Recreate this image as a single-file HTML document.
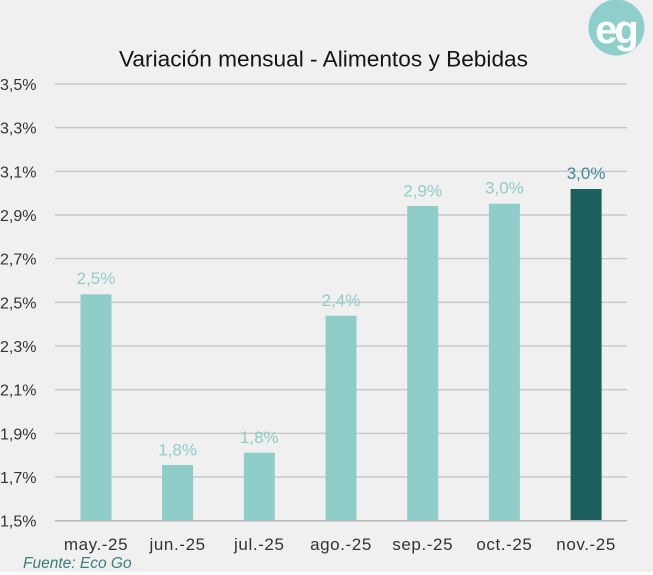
<!DOCTYPE html>
<html><head><meta charset="utf-8"><style>
html,body{margin:0;padding:0;background:#f0f0f0;}
svg{display:block;font-family:"Liberation Sans",sans-serif;}
</style></head><body>
<svg width="653" height="575" viewBox="0 0 653 575" xmlns="http://www.w3.org/2000/svg">
<rect x="0" y="0" width="653" height="575" fill="#f0f0f0"/>
<rect x="0" y="572" width="653" height="3" fill="#ffffff"/>
<!-- logo -->
<circle cx="616.5" cy="27.5" r="28" fill="#8fcfcb"/>
<text x="615.5" y="43" font-size="40" font-weight="bold" fill="#ffffff" text-anchor="middle" letter-spacing="-3">eg</text>
<!-- title -->
<text x="119" y="66.5" font-size="22.5" fill="#151515" textLength="409" lengthAdjust="spacingAndGlyphs">Variación mensual - Alimentos y Bebidas</text>
<!-- gridlines -->
<g stroke="#c9c9c9" stroke-width="1.5">
<line x1="55" x2="627" y1="84" y2="84"/>
<line x1="55" x2="627" y1="127.67" y2="127.67"/>
<line x1="55" x2="627" y1="171.33" y2="171.33"/>
<line x1="55" x2="627" y1="215" y2="215"/>
<line x1="55" x2="627" y1="258.67" y2="258.67"/>
<line x1="55" x2="627" y1="302.33" y2="302.33"/>
<line x1="55" x2="627" y1="346" y2="346"/>
<line x1="55" x2="627" y1="389.67" y2="389.67"/>
<line x1="55" x2="627" y1="433.33" y2="433.33"/>
<line x1="55" x2="627" y1="477" y2="477"/>
</g>
<!-- y labels -->
<g font-size="16" fill="#333333">
<text x="0" y="90">3,5%</text>
<text x="0" y="133.67">3,3%</text>
<text x="0" y="177.33">3,1%</text>
<text x="0" y="221">2,9%</text>
<text x="0" y="264.67">2,7%</text>
<text x="0" y="308.33">2,5%</text>
<text x="0" y="352">2,3%</text>
<text x="0" y="395.67">2,1%</text>
<text x="0" y="439.33">1,9%</text>
<text x="0" y="483">1,7%</text>
<text x="0" y="526.7">1,5%</text>
</g>
<!-- bars -->
<g fill="#8ecdc8">
<rect x="80.5" y="294.3" width="31" height="226.4"/>
<rect x="162.1" y="465" width="31" height="55.7"/>
<rect x="243.8" y="452.7" width="31" height="68"/>
<rect x="325.5" y="315.7" width="31" height="205"/>
<rect x="407.2" y="206" width="31" height="314.7"/>
<rect x="488.9" y="203.7" width="31" height="317"/>
</g>
<rect x="570.6" y="189" width="31" height="331.7" fill="#1c5f5e"/>
<line x1="55" x2="627" y1="520.7" y2="520.7" stroke="#b5b5b5" stroke-width="1.5"/>
<!-- value labels -->
<g font-size="17" fill="#8ecdc8" text-anchor="middle">
<text x="96" y="284">2,5%</text>
<text x="177.6" y="455.7">1,8%</text>
<text x="259.3" y="443">1,8%</text>
<text x="341" y="306">2,4%</text>
<text x="422.7" y="196.7">2,9%</text>
<text x="504.4" y="193.3">3,0%</text>
</g>
<text x="586.1" y="179" font-size="17" fill="#3a8b9b" text-anchor="middle">3,0%</text>
<!-- x labels -->
<g font-size="17" fill="#333333" text-anchor="middle" letter-spacing="0.6">
<text x="96" y="550">may.-25</text>
<text x="177.6" y="550">jun.-25</text>
<text x="259.3" y="550">jul.-25</text>
<text x="341" y="550">ago.-25</text>
<text x="422.7" y="550">sep.-25</text>
<text x="504.4" y="550">oct.-25</text>
<text x="586.1" y="550">nov.-25</text>
</g>
<text x="23" y="568" font-size="15.5" font-style="italic" fill="#3a7d7a">Fuente: Eco Go</text>
</svg>
</body></html>
